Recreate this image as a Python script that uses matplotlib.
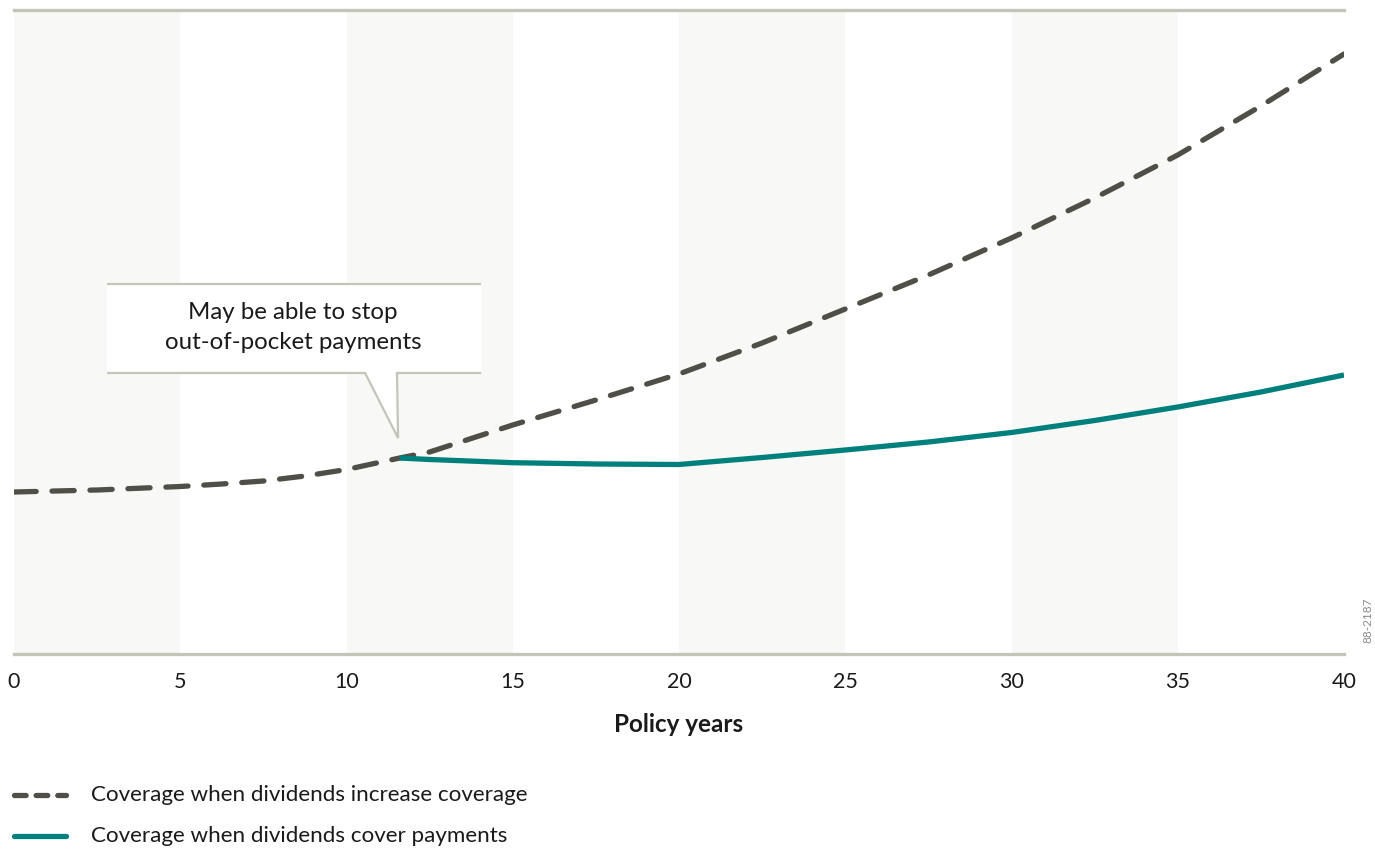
import matplotlib
matplotlib.use("Agg")
import matplotlib.pyplot as plt
from matplotlib.lines import Line2D

# ---- data ----
years_increase = [0, 2.5, 5, 6.25, 7.5, 8.75, 10, 11.6, 12.5, 15, 17.5, 20, 22.5, 25,
                  27.5, 30, 32.5, 35, 37.5, 40]
coverage_increase = [162, 164, 167.5, 170, 173, 178, 184.5, 196, 202, 229, 254, 280, 311,
                     345, 379, 416, 456, 499, 548, 600]

years_cover = [11.6, 12.5, 15, 17.5, 20, 22.5, 25, 27.5, 30, 32.5, 35, 37.5, 40]
coverage_cover = [196, 194.5, 191.3, 190, 189.5, 196.5, 204, 212, 221.5, 233.5, 247, 262, 279]

xticks = [0, 5, 10, 15, 20, 25, 30, 35, 40]
band_starts = [0, 10, 20, 30]
band_width = 5

callout_text = "May be able to stop\nout-of-pocket payments"
xlabel = "Policy years"
legend_labels = ["Coverage when dividends increase coverage",
                 "Coverage when dividends cover payments"]
code_text = "88-2187"

# ---- style ----
FONT = ["Lato", "DejaVu Sans"]
plt.rcParams["font.family"] = FONT
DASH_C = "#4f4f47"
TEAL = "#00807d"
GRID_C = "#c4c4b9"
BAND_C = "#f8f8f6"
TXT = "#1a1a1a"

W, H = 1375, 849
fig = plt.figure(figsize=(W / 100, H / 100), dpi=100)
ax = fig.add_axes([14 / W, (H - 654) / H, (1344 - 14) / W, (654 - 10) / H])
ax.set_xlim(0, 40)
ax.set_ylim(0, 644)

for s in band_starts:
    ax.axvspan(s, s + band_width, color=BAND_C, lw=0, zorder=0)

for sp in ax.spines.values():
    sp.set_visible(False)
ax.axhline(0, color=GRID_C, lw=2.4, zorder=1, clip_on=False)
ax.axhline(644, color=GRID_C, lw=2.4, zorder=1, clip_on=False)

ax.plot(years_increase, coverage_increase, color=DASH_C, lw=3.8,
        dashes=(4.2, 3.0), dash_capstyle="round", zorder=4)
ax.plot(years_cover, coverage_cover, color=TEAL, lw=3.8,
        solid_capstyle="butt", solid_joinstyle="round", zorder=5)

# callout box (white with grey top/bottom rules and pointer)
bx0, bx1, by0, by1 = 2.8, 14.05, 281, 370
px0, px1, tipx, tipy = 10.56, 11.52, 11.55, 216
ax.fill([bx0, bx1, bx1, px1, tipx, px0, bx0], [by1, by1, by0, by0, tipy, by0, by0],
        color="white", lw=0, zorder=2)
ax.plot([bx0, bx1], [by1, by1], color=GRID_C, lw=1.6, zorder=3, solid_capstyle="butt")
ax.plot([bx0, px0, tipx, px1, bx1], [by0, by0, tipy, by0, by0], color=GRID_C, lw=1.6,
        zorder=3, solid_capstyle="butt", solid_joinstyle="miter")
ax.text((bx0 + bx1) / 2 - 0.03, (by0 + by1) / 2 + 1, callout_text, ha="center", va="center",
        fontsize=17.3, color=TXT, linespacing=1.55, zorder=6)

ax.set_yticks([])
ax.set_xticks(xticks)
ax.set_xticklabels([str(t) for t in xticks], fontsize=15.5, color=TXT)
ax.tick_params(axis="x", length=0, pad=13)
ax.set_xlabel(xlabel, fontsize=17.5, fontweight="bold", color=TXT, labelpad=15)

# legend
for i, (lab, y) in enumerate(zip(legend_labels, [795, 836])):
    yf = (H - y) / H
    if i == 0:
        ln = Line2D([14 / W, 66 / W], [yf, yf], transform=fig.transFigure, color=DASH_C,
                    lw=3.8, dashes=(2.2, 1.9), dash_capstyle="round")
    else:
        ln = Line2D([14 / W, 66 / W], [yf, yf], transform=fig.transFigure, color=TEAL,
                    lw=3.8, solid_capstyle="round")
    fig.add_artist(ln)
    fig.text(91 / W, yf, lab, ha="left", va="center", fontsize=16.1, color=TXT)

fig.text(1368 / W, (H - 620) / H, code_text, rotation=90, ha="center", va="center",
         fontsize=8.5, color="#8a8a8a")

fig.savefig("out.png", dpi=100, facecolor="white")
